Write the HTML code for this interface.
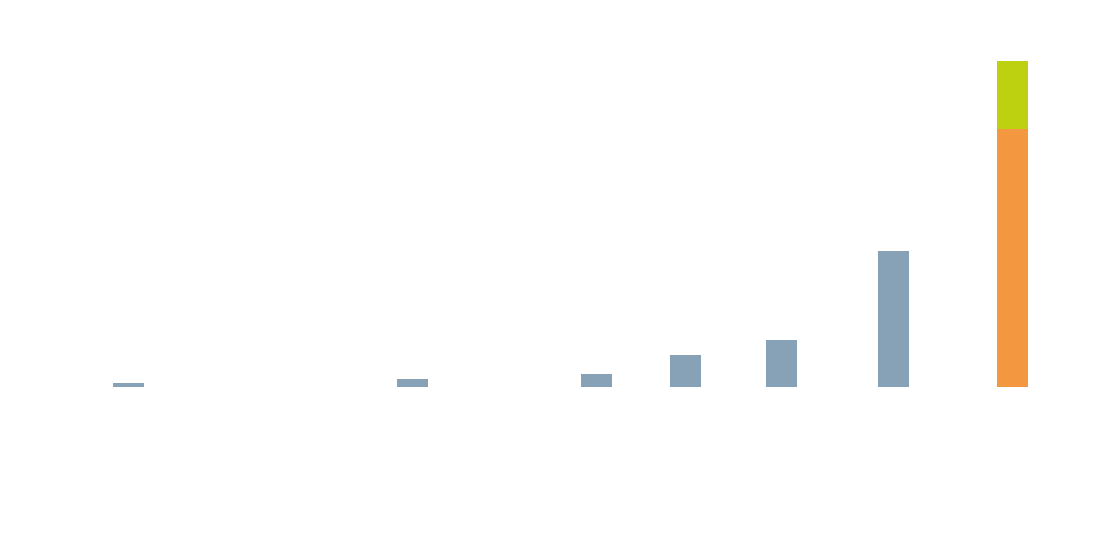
<!DOCTYPE html>
<html><head><style>
body{margin:0;width:1110px;height:548px;background:#fff;position:relative;overflow:hidden}
div{position:absolute}
.b{background:#87a2b7;width:31px}
</style></head><body>
<div class="b" style="left:113px;top:383px;height:4px"></div>
<div class="b" style="left:397px;top:379px;height:8px"></div>
<div class="b" style="left:581px;top:374px;height:13px"></div>
<div class="b" style="left:670px;top:355px;height:32px"></div>
<div class="b" style="left:766px;top:340px;height:47px"></div>
<div class="b" style="left:878px;top:251px;height:136px"></div>
<div style="left:997px;top:61px;width:31px;height:68px;background:#bed110"></div>
<div style="left:997px;top:129px;width:31px;height:258px;background:#f39741"></div>
</body></html>
